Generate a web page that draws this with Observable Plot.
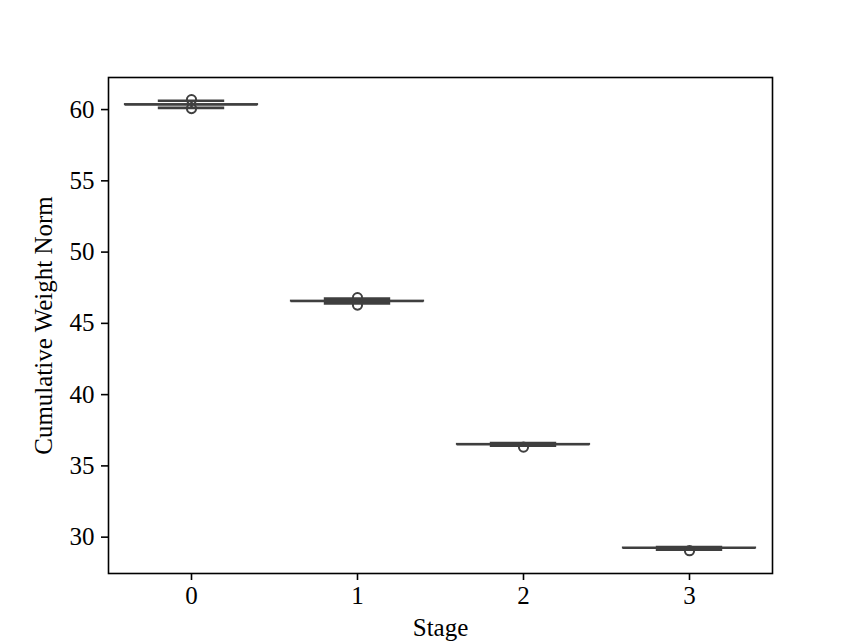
<!DOCTYPE html>
<html>
<head>
<meta charset="utf-8">
<script src="https://cdn.jsdelivr.net/npm/d3@7"></script>
<script src="https://cdn.jsdelivr.net/npm/@observablehq/plot@0.6"></script>
<style>
  html, body { margin: 0; padding: 0; background: #fff; }
  #chart svg { display: block; }
</style>
</head>
<body>
<div id="chart"></div>
<script>
// Box statistics per stage
const stages   = [0, 1, 2, 3];
const medians  = [60.35, 46.56, 36.51, 29.24];
const q1s      = [60.33, 46.54, 36.49, 29.22];
const q3s      = [60.37, 46.58, 36.53, 29.26];
const whiskLo  = [60.12, 46.40, 36.42, 29.13];
const whiskHi  = [60.62, 46.73, 36.60, 29.30];
// Outliers (fliers)
const outlierStage = [0, 0, 1, 1, 2, 3];
const outlierValue = [60.70, 60.07, 46.80, 46.28, 36.32, 29.05];
const yTicks = [30, 35, 40, 45, 50, 55, 60];
const xTicks = [0, 1, 2, 3];

const boxes = stages.map((s, i) => ({
  stage: s, median: medians[i], q1: q1s[i], q3: q3s[i], lo: whiskLo[i], hi: whiskHi[i]
}));
const fliers = outlierStage.map((s, i) => ({stage: s, value: outlierValue[i]}));

const LINE = "#3f3f3f";
const BOXW = 0.4;   // half of 0.8 box width
const CAPW = 0.2;   // caps: half of box width

const chart = Plot.plot({
  width: 859,
  height: 644,
  marginLeft: 108,
  marginRight: 87,
  marginTop: 77,
  marginBottom: 71,
  style: {fontFamily: "'Liberation Serif', serif", fontSize: "25px", color: "#000", background: "#fff"},
  x: {domain: [-0.5, 3.5]},
  y: {domain: [27.45, 62.25]},
  marks: [
    // whiskers
    Plot.ruleX(boxes, {x: "stage", y1: "lo", y2: "q1", stroke: LINE, strokeWidth: 2.7}),
    Plot.ruleX(boxes, {x: "stage", y1: "q3", y2: "hi", stroke: LINE, strokeWidth: 2.7}),
    // caps
    Plot.ruleY(boxes, {x1: d => d.stage - CAPW, x2: d => d.stage + CAPW, y: "lo", stroke: LINE, strokeWidth: 2.7}),
    Plot.ruleY(boxes, {x1: d => d.stage - CAPW, x2: d => d.stage + CAPW, y: "hi", stroke: LINE, strokeWidth: 2.7}),
    // boxes
    Plot.rect(boxes, {x1: d => d.stage - BOXW, x2: d => d.stage + BOXW, y1: "q1", y2: "q3",
      fill: "#808080", stroke: LINE, strokeWidth: 1.4}),
    // medians
    Plot.ruleY(boxes, {x1: d => d.stage - BOXW, x2: d => d.stage + BOXW, y: "median", stroke: LINE, strokeWidth: 2.2}),
    // fliers
    Plot.dot(fliers, {x: "stage", y: "value", r: 4.6, stroke: LINE, strokeWidth: 2, fill: "none"}),
    Plot.axisX({ticks: xTicks, tickSize: 7, tickPadding: 6, tickFormat: d => String(d),
      label: "Stage", labelAnchor: "center", labelArrow: "none", labelOffset: 62, stroke: "#000", strokeWidth: 1.6}),
    Plot.axisY({ticks: yTicks, tickSize: 7, tickPadding: 7, tickFormat: d => String(d),
      label: "Cumulative Weight Norm", labelAnchor: "center", labelArrow: "none", labelOffset: 74, stroke: "#000", strokeWidth: 1.6}),
    Plot.frame({stroke: "#000", strokeWidth: 1.6})
  ]
});
document.getElementById("chart").appendChild(chart);
</script>
</body>
</html>
